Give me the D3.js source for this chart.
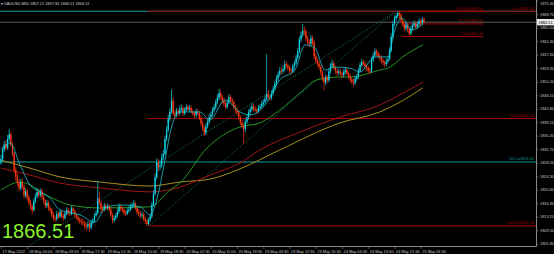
<!DOCTYPE html>
<html>
<head>
<meta charset="utf-8">
<script src="https://cdn.jsdelivr.net/npm/d3@7"></script>
<style>
  html, body { margin: 0; padding: 0; background: #000; }
  svg { display: block; }
</style>
</head>
<body>
<svg id="chart" width="554" height="254"></svg>
<script>
// XAUUSD M30 candles, 17 May - 25 May 2022
const firstOpen = 1828.0;
const closes = [
  1829.0,1831.5,1833.0,1832.0,1834.5,1835.8,1833.0,1830.5,1826.0,1824.0,
  1822.5,1821.0,1822.8,1821.5,1819.0,1820.2,1818.5,1817.0,1816.0,1815.0,
  1817.5,1818.8,1820.0,1819.2,1820.3,1818.5,1817.6,1816.2,1817.0,1815.5,
  1815.0,1813.6,1812.8,1812.5,1814.0,1813.2,1814.5,1813.4,1812.8,1814.0,
  1815.0,1814.2,1814.0,1815.5,1814.8,1813.6,1813.0,1812.4,1812.0,1811.8,
  1811.5,1810.8,1810.5,1811.2,1810.2,1811.6,1812.0,1813.5,1814.2,1818.2,
  1817.0,1815.3,1815.0,1816.2,1815.6,1816.0,1815.2,1813.6,1812.2,1812.8,
  1813.5,1814.6,1816.0,1815.4,1815.0,1814.2,1814.0,1814.8,1815.2,1816.0,
  1816.4,1816.8,1815.6,1814.4,1814.0,1813.5,1813.8,1812.6,1812.0,1811.2,
  1812.4,1813.2,1816.5,1819.5,1824.0,1828.0,1826.8,1827.2,1829.5,1830.5,
  1834.5,1837.0,1840.0,1842.0,1845.0,1841.5,1841.0,1842.2,1841.6,1842.8,
  1843.0,1841.5,1842.5,1843.2,1842.6,1843.0,1842.0,1841.4,1841.0,1842.0,
  1841.6,1840.2,1838.8,1837.5,1836.2,1838.0,1839.2,1840.5,1841.2,1842.4,
  1843.2,1844.6,1845.8,1847.0,1846.0,1845.0,1844.2,1843.2,1844.5,1846.0,
  1845.2,1844.6,1843.2,1842.4,1841.8,1840.5,1839.0,1838.2,1837.2,1839.2,
  1840.4,1841.8,1842.6,1843.5,1842.8,1842.4,1842.0,1843.0,1843.4,1844.0,
  1844.6,1845.5,1846.8,1846.0,1845.8,1847.0,1848.2,1849.5,1851.0,1852.2,
  1853.2,1853.0,1853.6,1855.0,1854.6,1854.0,1853.2,1853.0,1854.4,1855.2,
  1856.8,1858.5,1861.8,1863.0,1864.2,1864.0,1862.0,1861.0,1860.6,1862.2,
  1861.0,1857.2,1856.0,1855.2,1854.2,1852.8,1851.2,1850.0,1851.5,1850.6,
  1853.0,1854.6,1855.2,1854.0,1853.2,1852.6,1853.0,1852.4,1852.0,1852.8,
  1853.4,1852.5,1851.8,1850.8,1850.2,1849.8,1851.0,1851.6,1853.2,1854.8,
  1855.6,1855.2,1854.4,1854.0,1853.2,1853.0,1856.2,1857.4,1858.6,1858.0,
  1857.2,1856.8,1856.0,1855.4,1855.0,1855.8,1856.4,1858.8,1862.5,1866.0,
  1867.6,1868.2,1869.0,1868.5,1867.0,1866.0,1864.8,1865.8,1864.6,1863.4,
  1864.8,1865.6,1866.2,1865.2,1866.0,1866.8,1866.2,1867.21,1866.51
];
const highs = [
  1830.2,1832.4,1834.0,1834.2,1835.6,1837.2,1836.4,1833.6,1831.0,1826.8,
  1825.0,1823.4,1823.6,1823.8,1822.0,1821.0,1820.8,1819.2,1817.8,1816.6,
  1818.2,1819.6,1821.2,1820.8,1821.0,1820.8,1819.2,1818.0,1817.8,1817.6,
  1816.2,1815.6,1814.4,1813.6,1814.8,1814.6,1815.4,1815.0,1814.0,1814.8,
  1815.8,1815.6,1815.0,1816.2,1816.0,1815.2,1814.2,1813.6,1813.0,1812.8,
  1812.6,1812.0,1811.6,1812.0,1811.8,1812.4,1812.8,1814.2,1815.0,1823.0,
  1820.0,1817.6,1816.2,1817.0,1816.8,1816.8,1816.6,1815.8,1814.2,1813.6,
  1814.2,1815.4,1816.8,1816.6,1816.0,1815.6,1815.0,1815.6,1816.0,1816.8,
  1817.2,1817.8,1817.4,1816.2,1815.2,1814.8,1814.6,1814.4,1813.2,1812.6,
  1813.0,1814.0,1817.2,1820.4,1825.0,1829.2,1829.0,1828.6,1830.4,1831.6,
  1835.4,1838.0,1841.2,1843.0,1848.0,1846.0,1842.4,1843.0,1842.8,1843.6,
  1844.0,1843.6,1843.2,1844.2,1843.8,1843.8,1843.6,1842.6,1842.0,1842.8,
  1842.8,1842.2,1840.8,1839.4,1838.0,1838.8,1840.0,1841.4,1842.0,1843.2,
  1844.0,1845.4,1846.8,1848.2,1847.8,1846.6,1845.8,1844.8,1845.2,1846.8,
  1846.6,1845.8,1845.0,1843.8,1843.0,1842.4,1841.0,1839.8,1838.8,1840.0,
  1841.2,1842.6,1843.4,1844.4,1844.2,1843.6,1843.0,1843.8,1844.2,1845.0,
  1845.4,1846.4,1857.8,1848.0,1846.8,1847.8,1849.0,1850.4,1852.0,1853.0,
  1854.2,1854.0,1854.6,1856.0,1855.8,1855.2,1854.6,1854.0,1855.2,1856.0,
  1857.6,1859.4,1862.6,1864.0,1866.0,1865.4,1864.6,1862.8,1861.8,1863.0,
  1862.8,1861.6,1858.0,1856.8,1856.0,1854.8,1853.4,1851.8,1852.2,1852.0,
  1853.8,1855.4,1856.2,1855.8,1854.6,1853.8,1853.8,1853.6,1853.0,1853.6,
  1854.2,1854.0,1853.0,1852.4,1851.4,1851.0,1851.8,1852.4,1854.0,1855.6,
  1856.4,1856.2,1855.8,1855.0,1854.6,1854.0,1857.0,1858.2,1859.4,1859.2,
  1858.6,1857.8,1857.4,1856.6,1856.0,1856.6,1857.2,1859.6,1863.4,1866.8,
  1868.4,1869.0,1869.5,1869.4,1869.0,1867.6,1866.6,1866.6,1866.2,1865.0,
  1865.6,1866.4,1867.0,1866.8,1866.8,1867.6,1867.4,1867.9,1867.9
];
const lows = [
  1827.4,1828.6,1831.0,1831.4,1831.6,1833.8,1832.4,1829.8,1825.2,1823.0,
  1821.6,1820.2,1820.4,1820.6,1818.2,1818.4,1817.6,1816.4,1815.0,1813.8,
  1814.6,1816.8,1818.2,1818.4,1818.6,1817.8,1816.8,1815.4,1815.6,1814.8,
  1814.2,1813.0,1812.0,1811.6,1812.0,1812.6,1812.8,1812.8,1812.0,1812.4,
  1813.6,1813.6,1813.4,1813.6,1814.2,1813.0,1812.4,1811.6,1811.2,1811.0,
  1810.6,1810.0,1809.4,1809.8,1809.0,1809.6,1811.0,1811.6,1813.0,1813.8,
  1816.4,1814.6,1814.2,1814.6,1815.0,1815.0,1814.6,1813.0,1811.4,1811.6,
  1812.2,1813.0,1814.0,1814.8,1814.4,1813.6,1813.4,1813.6,1814.2,1814.8,
  1815.4,1815.8,1815.0,1813.8,1813.2,1812.8,1812.8,1812.0,1811.2,1810.7,
  1810.8,1811.8,1812.8,1816.0,1819.0,1823.4,1825.6,1825.8,1826.6,1828.8,
  1830.0,1833.8,1836.4,1839.2,1841.4,1840.8,1840.2,1840.4,1840.8,1841.0,
  1842.0,1840.8,1841.0,1842.0,1842.0,1842.0,1841.4,1840.8,1840.2,1840.4,
  1841.0,1839.6,1838.0,1836.6,1835.2,1835.6,1837.4,1838.6,1839.8,1840.6,
  1841.8,1842.6,1844.0,1845.2,1845.2,1844.2,1843.4,1842.6,1842.8,1844.0,
  1844.6,1843.8,1842.6,1841.6,1841.0,1839.8,1838.2,1837.4,1833.2,1836.4,
  1838.6,1839.8,1841.0,1842.0,1842.2,1841.8,1841.2,1841.6,1842.4,1842.8,
  1843.4,1844.0,1845.0,1845.2,1845.0,1845.2,1846.4,1847.6,1849.0,1850.4,
  1851.6,1852.2,1852.4,1853.0,1853.8,1853.2,1852.4,1852.2,1852.6,1853.8,
  1854.8,1856.2,1858.0,1861.0,1862.4,1862.8,1861.2,1860.2,1859.8,1860.0,
  1860.2,1856.4,1855.2,1854.4,1853.4,1852.0,1850.4,1847.9,1849.2,1849.8,
  1850.0,1852.4,1854.0,1853.4,1852.4,1851.8,1852.0,1851.8,1851.2,1851.4,
  1852.2,1851.8,1851.0,1850.0,1849.4,1849.0,1849.2,1850.4,1851.0,1852.6,
  1854.2,1854.4,1853.8,1853.2,1852.6,1852.2,1852.6,1855.6,1856.8,1857.2,
  1856.6,1856.0,1855.2,1854.6,1854.2,1854.4,1855.2,1856.0,1858.2,1862.0,
  1865.4,1866.8,1867.6,1867.4,1866.2,1865.2,1864.0,1864.2,1863.8,1862.58,
  1863.0,1864.2,1865.0,1864.6,1864.8,1865.4,1865.6,1865.8,1866.51
];

// moving averages: [bar index, price]
const maFast = [
  [0,1831.5],[5.5,1833.4],[11.6,1827.4],[17.7,1821.9],[23.8,1820.0],[29.9,1818.3],
  [36,1815.0],[48.2,1813.7],[57.3,1811.7],[63.4,1815.6],[72.6,1816.4],[84.8,1815.9],
  [90.9,1813.7],[95.7,1819.1],[100,1828.7],[104.3,1838.3],[109.1,1841.9],[121.3,1841.9],
  [127.4,1839.7],[136.6,1845.2],[145.7,1841.9],[151.8,1841.1],[161,1843.8],[170,1850.7],
  [179.3,1853.4],[185.4,1860.3],[191.5,1859.4],[197.6,1853.4],[203.7,1854.2],[212.8,1853.9],
  [218.9,1852.9],[228,1857.0],[236,1857.0],[240.2,1864.4],[244.5,1867.7],[250.6,1864.4],
  [257.3,1866.0]
];
const maGreen = [
  [0,1820.5],[11.6,1822.7],[29.9,1818.6],[42,1816.4],[60.4,1815.6],[90.9,1815.9],
  [103,1820.5],[109,1822.4],[125.6,1832.0],[145.7,1837.8],[157.9,1838.9],[170,1842.4],
  [182.3,1847.1],[192.7,1850.7],[206.7,1851.5],[212.8,1851.5],[231,1853.4],[237.2,1854.2],
  [245,1857.0],[257.3,1860.3]
];
const maRed = [
  [0,1826.5],[17.7,1824.6],[36,1822.4],[60.4,1821.1],[90.9,1820.0],[109,1821.3],
  [127.4,1824.6],[145.7,1827.9],[157.9,1831.5],[182.3,1836.4],[206.7,1840.5],[231,1843.8],
  [243.3,1846.6],[257.3,1850.1]
];
const maYellow = [
  [0,1828.7],[17.7,1826.5],[36,1824.1],[60.4,1822.7],[90.9,1821.6],[109,1822.7],
  [127.4,1823.5],[145.7,1826.3],[170,1831.5],[206.7,1838.9],[231,1841.9],[243.3,1844.6],
  [257.3,1848.5]
];

// fibo trend lines (dotted)
const trendA = [[17.7,1805.4],[240.2,1869.3]];
const trendB = [[90.9,1810.9],[240.2,1869.3]];

// fibonacci levels
const fiboBigLevels = ["0.0", "50.0", "100.0"];
const fiboBigPrices = [1869.50, 1840.10, 1810.70];
const fiboSmallLevels = ["100.0", "50.0", "0.0"];
const fiboSmallPrices = [1869.50, 1866.04, 1862.58];
const fiboTealLevels = ["0.0", "50.0"];
const fiboTealPrices = [1869.50, 1828.20];

const priceTicks = [1872.40,1868.70,1865.00,1861.30,1857.60,1853.90,1850.20,1846.50,1842.80,
  1839.10,1835.40,1831.70,1828.00,1824.30,1820.60,1816.90,1813.20,1809.50,1805.80];
const timeLabels = ["17 May 2022","18 May 00:00","18 May 09:00","18 May 17:30","19 May 01:30",
  "19 May 10:00","19 May 18:30","20 May 02:30","20 May 11:00","20 May 19:30","23 May 03:30",
  "23 May 12:30","23 May 20:30","24 May 04:30","24 May 13:00","24 May 21:30","25 May 06:30"];
const headerText = "XAUUSD,M30  1867.21 1867.90 1866.51 1866.51";
const bidPrice = 1866.51;

const plotW = 536, plotH = 246;
const bullColor = "#12d6e8", bearColor = "#ff3a12";
const fiboRed = "#a30000", tealColor = "#0f9c9c";
const labelFont = "Liberation Sans, Arial, sans-serif";

const svg = d3.select("#chart");
svg.append("rect").attr("width", 554).attr("height", 254).attr("fill", "#000");

const x = d3.scaleLinear().domain([0, 258]).range([1, 424]);
const y = d3.scaleLinear().domain([1805.8, 1872.4]).range([243.7, 0.7]);

svg.append("clipPath").attr("id", "plot-clip")
  .append("rect").attr("width", plotW).attr("height", plotH);

const plot = svg.append("g").attr("clip-path", "url(#plot-clip)");

// teal fibo (runs from the left edge)
fiboTealPrices.forEach((p, i) => {
  plot.append("line")
    .attr("x1", 0).attr("x2", plotW)
    .attr("y1", y(p)).attr("y2", y(p))
    .attr("stroke", tealColor).attr("stroke-width", 1);
});
plot.append("text")
  .attr("x", plotW - 2).attr("y", y(fiboTealPrices[1]) - 1.5)
  .attr("text-anchor", "end")
  .attr("font-family", labelFont)
  .attr("font-size", 3.9)
  .attr("fill", tealColor)
  .text(`${fiboTealLevels[1]} =${fiboTealPrices[1].toFixed(2)}`);

// big fibo, anchored at the low bar 89
fiboBigPrices.forEach((p, i) => {
  plot.append("line")
    .attr("x1", x(89)).attr("x2", plotW)
    .attr("y1", y(p)).attr("y2", y(p))
    .attr("stroke", fiboRed).attr("stroke-width", 1);
  plot.append("text")
    .attr("x", plotW - 2).attr("y", y(p) - 1.5)
    .attr("text-anchor", "end")
    .attr("font-family", labelFont)
    .attr("font-size", 3.9)
    .attr("fill", fiboRed)
    .text(`${fiboBigLevels[i]} =${p.toFixed(2)}`);
});

// small fibo on the last swing
fiboSmallPrices.forEach((p, i) => {
  plot.append("line")
    .attr("x1", x(244.5)).attr("x2", x(294))
    .attr("y1", y(p)).attr("y2", y(p))
    .attr("stroke", fiboRed).attr("stroke-width", 1);
  plot.append("text")
    .attr("x", x(294)).attr("y", y(p) - 1.5)
    .attr("text-anchor", "end")
    .attr("font-family", labelFont)
    .attr("font-size", 3.9)
    .attr("fill", fiboRed)
    .text(`${fiboSmallLevels[i]} =${p.toFixed(2)}`);
});

// bid line
plot.append("line")
  .attr("x1", 0).attr("x2", plotW)
  .attr("y1", y(bidPrice)).attr("y2", y(bidPrice))
  .attr("stroke", "#5c5c5c").attr("stroke-width", 1);

// dotted trend lines
const seg = d3.line().x(d => x(d[0])).y(d => y(d[1]));
[trendA, trendB].forEach(t => {
  plot.append("path")
    .attr("d", seg(t))
    .attr("fill", "none")
    .attr("stroke", "#17998c")
    .attr("stroke-width", 0.8)
    .attr("stroke-dasharray", "1,1.6");
});

// moving averages
const maLine = d3.line().x(d => x(d[0])).y(d => y(d[1])).curve(d3.curveMonotoneX);
const maDefs = [
  { pts: maYellow, color: "#b5a21e" },
  { pts: maRed, color: "#b3161b" },
  { pts: maGreen, color: "#2aa52a" }
];
maDefs.forEach(m => {
  plot.append("path")
    .attr("d", maLine(m.pts))
    .attr("fill", "none")
    .attr("stroke", m.color)
    .attr("stroke-width", 0.9);
});

// candles
const bars = closes.map((c, i) => ({
  i: i,
  o: i === 0 ? firstOpen : closes[i - 1],
  c: c,
  h: highs[i],
  l: lows[i]
}));

const candle = plot.selectAll("g.candle")
  .data(bars)
  .join("g")
  .attr("class", "candle");

candle.append("line")
  .attr("x1", d => x(d.i)).attr("x2", d => x(d.i))
  .attr("y1", d => y(Math.max(d.h, d.o, d.c)))
  .attr("y2", d => y(Math.min(d.l, d.o, d.c)))
  .attr("stroke", d => d.c >= d.o ? bullColor : bearColor)
  .attr("stroke-width", 0.7);

candle.append("rect")
  .attr("x", d => x(d.i) - 0.65)
  .attr("width", 1.3)
  .attr("y", d => y(Math.max(d.o, d.c)))
  .attr("height", d => Math.max(0.6, Math.abs(y(d.o) - y(d.c))))
  .attr("fill", d => d.c >= d.o ? bullColor : bearColor);

// fast MA on top of candles
plot.append("path")
  .attr("d", maLine(maFast))
  .attr("fill", "none")
  .attr("stroke", "#19c4d4")
  .attr("stroke-width", 0.8);

// big price text
svg.append("text")
  .attr("x", 2).attr("y", 238)
  .attr("font-family", labelFont)
  .attr("font-size", 20)
  .attr("fill", "#8cf52a")
  .text(bidPrice.toFixed(2));

// header
svg.append("text")
  .attr("x", 1).attr("y", 5)
  .attr("font-family", labelFont)
  .attr("font-size", 3.9)
  .attr("fill", "#d0d0d0")
  .text("\u25BE " + headerText);

// price axis
const yAxis = d3.axisRight(y)
  .tickValues(priceTicks)
  .tickFormat(d3.format(".2f"))
  .tickSize(2.5)
  .tickPadding(1.5);

const yg = svg.append("g")
  .attr("transform", `translate(${plotW},0)`)
  .call(yAxis);
yg.select(".domain").remove();
yg.selectAll("line").attr("stroke", "#8a8a8a").attr("stroke-width", 0.6);
yg.selectAll("text")
  .attr("font-family", labelFont)
  .attr("font-size", 3.9)
  .attr("fill", "#c8c8c8");
// keep the top label inside the picture
yg.selectAll("text").filter(d => d === priceTicks[0]).attr("dy", "0.95em");

// time axis
const xAxis = d3.axisBottom(x)
  .tickValues(timeLabels.map((t, k) => k * 16))
  .tickFormat((d, k) => timeLabels[k])
  .tickSize(3)
  .tickPadding(1);

const xg = svg.append("g")
  .attr("transform", `translate(0,${plotH})`)
  .call(xAxis);
xg.select(".domain").remove();
xg.selectAll("line").attr("stroke", "#8a8a8a").attr("stroke-width", 0.6);
xg.selectAll("text")
  .attr("text-anchor", "start")
  .attr("dx", 1)
  .attr("font-family", labelFont)
  .attr("font-size", 3.9)
  .attr("fill", "#c8c8c8");

// frame
svg.append("line")
  .attr("x1", plotW + 0.5).attr("x2", plotW + 0.5)
  .attr("y1", 0).attr("y2", plotH + 0.5)
  .attr("stroke", "#8a8a8a").attr("stroke-width", 1);
svg.append("line")
  .attr("x1", 0).attr("x2", plotW + 0.5)
  .attr("y1", plotH + 0.5).attr("y2", plotH + 0.5)
  .attr("stroke", "#8a8a8a").attr("stroke-width", 1);

// bid price box
svg.append("rect")
  .attr("x", plotW + 1).attr("y", y(bidPrice) - 3.2)
  .attr("width", 17).attr("height", 6.4)
  .attr("fill", "#e8e8e8");
svg.append("text")
  .attr("x", plotW + 2.5).attr("y", y(bidPrice) + 1.4)
  .attr("font-family", labelFont)
  .attr("font-size", 3.9)
  .attr("fill", "#000")
  .text(bidPrice.toFixed(2));
</script>
</body>
</html>
